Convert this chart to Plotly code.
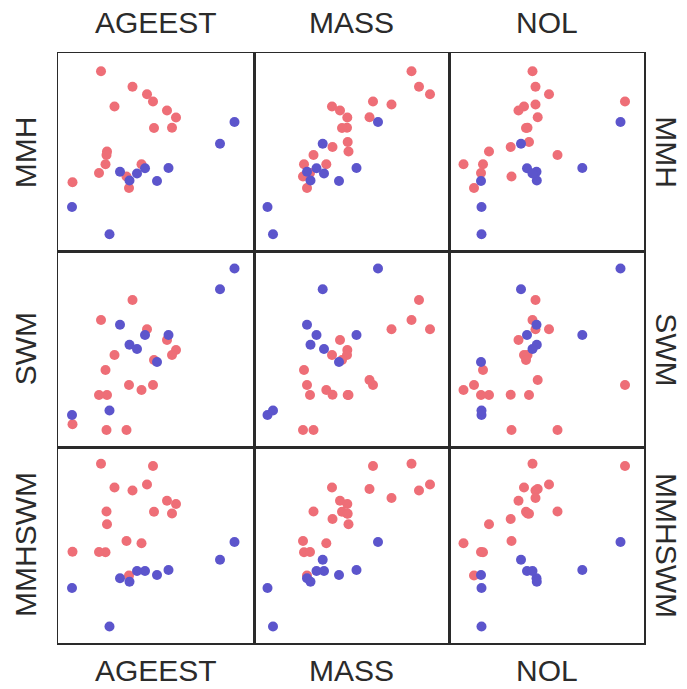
import plotly.graph_objects as go

# Column variables (x) and row variables (y)
x_vars = ["AGEEST", "MASS", "NOL"]
y_vars = ["MMH", "SWM", "MMHSWM"]

# Red group observations (None = missing value)
red_AGEEST = [43, 74.5, 89, 95, None, 56.5, 109, 118, None, 114, 96, None, None, 49, 48.5, 47.5, 83.5, 41, 68.5, 14.5, 71]
red_MASS = [157.5, 165, 176, 119, 137.5, 78, 86, 93.3, 115.5, 93, 88, 93.7, 78.5, 94.5, 59.5, 50, 72.3, 56, 49, None, 53]
red_NOL = [83.5, 86.5, 100, 176, 86.5, 75, 69.5, None, 88.7, 78.5, 77, 80, 61.7, 40, 108.5, 34, 14.5, 32, 62.5, None, 25]
red_MMH = [180.2, 164.8, 157.2, 150, 147, 145, 141, 134, 134.3, 123.8, 123.5, 109.5, 104.5, 100, 96.5, 87.3, 87.3, 78.5, 75, 69.2, 63.5]
red_SWM = [127, 147, 117.7, 62, 117.7, 92, 107, 97, 67, 92, 87, 52, 52.3, 52, 17, 77, 57, 52, 17, 22.7, 62]
red_MMHSWM = [179.3, 152.5, 158.5, 177, 145, 155.5, 142.2, 139, 154, 129.5, 131.3, 129.3, 124, 118.7, 131.5, 90.7, 99.7, 91, 102, 91.3, 67.5]

# Blue group observations
blue_AGEEST = [176.5, 162, 14, 51.5, 110.5, 99, 62, 71.5, 87, 79]
blue_MASS = [124, 68.7, 13.5, 19, 102.5, 85, 53, 56.5, 62.5, 70]
blue_NOL = [171.5, 72, 32.5, 32.5, 133.3, 32, 87.5, 87.8, 78, 83.5]
blue_MMH = [129.5, 107.8, 44.5, 17.2, 83.5, 70.5, 79.8, 71, 83.2, 78]
blue_SWM = [178.5, 157.7, 32, 36.5, 112, 85, 122.3, 102.3, 112, 98]
blue_MMHSWM = [101, 83.3, 55, 16.5, 73, 68, 64.7, 61.3, 72, 72]

red = {"AGEEST": red_AGEEST, "MASS": red_MASS, "NOL": red_NOL,
       "MMH": red_MMH, "SWM": red_SWM, "MMHSWM": red_MMHSWM}
blue = {"AGEEST": blue_AGEEST, "MASS": blue_MASS, "NOL": blue_NOL,
        "MMH": blue_MMH, "SWM": blue_SWM, "MMHSWM": blue_MMHSWM}

x_ranges = {"AGEEST": [0, 196], "MASS": [0, 195], "NOL": [0, 195]}
y_ranges = {"MMH": [0, 198.5], "SWM": [0, 195.5], "MMHSWM": [0, 196]}

RED = "#EE6E77"
BLUE = "#5C55CC"
LINE = "#2a2a2a"
TEXT = "#2b2b2b"

W, H = 687, 689
ML, MR, MT, MB = 58, 43, 53, 46
PW = W - ML - MR  # 586
PH = H - MT - MB  # 590

col_dom = [[0, 196 / PW], [196 / PW, 391 / PW], [391 / PW, 1]]
row_dom = [[391.5 / PH, 1], [196 / PH, 391.5 / PH], [0, 196 / PH]]

fig = go.Figure()
layout = {}
for i, yv in enumerate(y_vars):
    for j, xv in enumerate(x_vars):
        n = i * 3 + j + 1
        xa = "x" if n == 1 else f"x{n}"
        ya = "y" if n == 1 else f"y{n}"
        for grp, col in ((red, RED), (blue, BLUE)):
            fig.add_trace(go.Scatter(
                x=grp[xv], y=grp[yv], mode="markers",
                marker=dict(color=col, size=10, line=dict(width=0)),
                xaxis=xa, yaxis=ya, showlegend=False, hoverinfo="skip"))
        axis_common = dict(showgrid=False, zeroline=False, showticklabels=False,
                           ticks="", showline=True, mirror=True,
                           linecolor=LINE, linewidth=1.5)
        layout["xaxis" if n == 1 else f"xaxis{n}"] = dict(
            domain=col_dom[j], range=x_ranges[xv], anchor=ya, **axis_common)
        layout["yaxis" if n == 1 else f"yaxis{n}"] = dict(
            domain=row_dom[i], range=y_ranges[yv], anchor=xa, **axis_common)

annotations = []
font = dict(family="Liberation Sans, Arial, sans-serif", size=30, color=TEXT)
for j, xv in enumerate(x_vars):
    cx = (col_dom[j][0] + col_dom[j][1]) / 2
    annotations.append(dict(text=xv, x=cx, y=(MT + PH - 22) / PH, xref="paper", yref="paper",
                            showarrow=False, xanchor="center", yanchor="middle", font=font))
    annotations.append(dict(text=xv, x=cx, y=(MT + PH - 670) / PH, xref="paper", yref="paper",
                            showarrow=False, xanchor="center", yanchor="middle", font=font))
for i, yv in enumerate(y_vars):
    cy = (row_dom[i][0] + row_dom[i][1]) / 2
    annotations.append(dict(text=yv, x=(25 - ML) / PW, y=cy, xref="paper", yref="paper",
                            showarrow=False, xanchor="center", yanchor="middle",
                            textangle=-90, font=font))
    annotations.append(dict(text=yv, x=(667 - ML) / PW, y=cy, xref="paper", yref="paper",
                            showarrow=False, xanchor="center", yanchor="middle",
                            textangle=90, font=font))

fig.update_layout(
    width=W, height=H,
    margin=dict(l=ML, r=MR, t=MT, b=MB),
    paper_bgcolor="white", plot_bgcolor="white",
    annotations=annotations,
    **layout)

fig.write_html(
    "out.html",
    config={"displayModeBar": False, "staticPlot": True},
    post_script="document.body.style.margin='0px';document.body.style.overflow='hidden';")
